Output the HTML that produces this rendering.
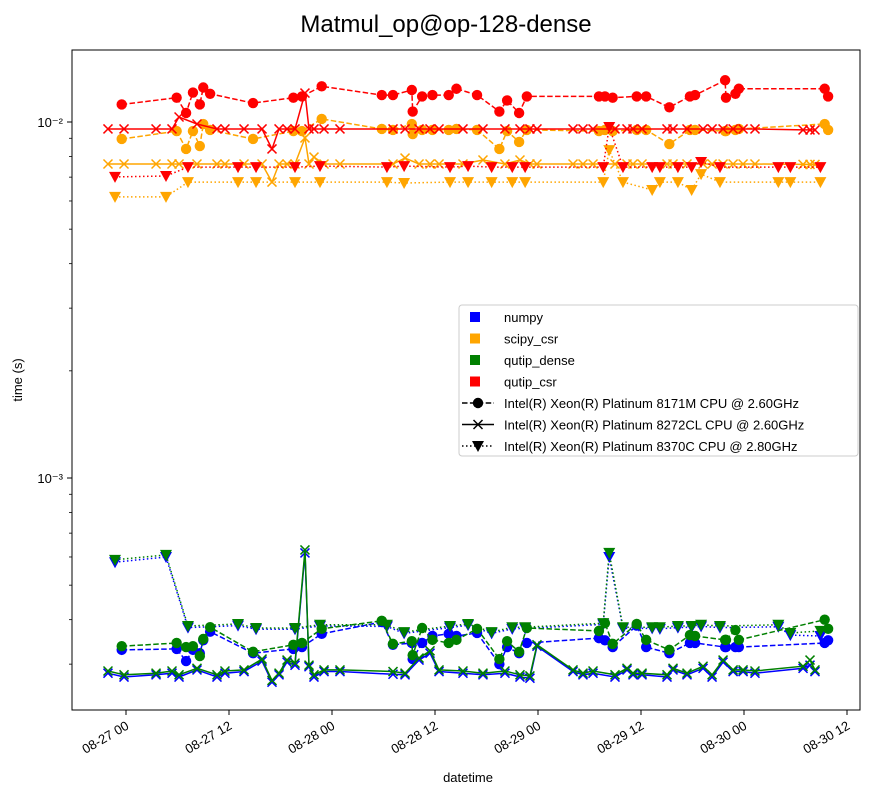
<!DOCTYPE html>
<html><head><meta charset="utf-8"><style>
body{margin:0;background:#fff;}
svg{display:block;font-family:"Liberation Sans","DejaVu Sans",sans-serif;}
</style></head><body>
<svg id="chart" width="875" height="794" viewBox="0 0 875 794" xmlns="http://www.w3.org/2000/svg">
<text x="446" y="32" font-size="24" text-anchor="middle">Matmul_op@op-128-dense</text>
<text transform="translate(22,380) rotate(-90)" font-size="13" text-anchor="middle">time (s)</text>
<text x="468" y="782" font-size="13" text-anchor="middle">datetime</text>
<g id="plot"></g>
<rect x="72" y="50" width="788" height="660" fill="none" stroke="#000" stroke-width="1"/>
<g id="axes"></g>
<g id="legend"></g>
</svg>
<script>
// hours since 08-27 00:00 ; values in milliseconds
const hoursA=[-0.5,5.9,7.0,7.8,8.6,9.0,9.8,14.8,19.5,20.5,22.8,29.8,31.1,33.3,33.4,34.5,35.7,37.6,38.5,40.9,43.5,44.4,45.8,46.7,55.1,55.8,56.7,59.5,60.6,63.3,65.7,66.3,69.8,69.9,71.0,71.4,81.4,81.8];
const numpyA=[0.329,0.331,0.306,0.329,0.322,0.35,0.37,0.322,0.331,0.335,0.365,0.394,0.34,0.344,0.31,0.344,0.36,0.365,0.36,0.367,0.30,0.335,0.322,0.344,0.355,0.35,0.335,0.385,0.335,0.322,0.344,0.344,0.335,0.335,0.335,0.335,0.344,0.35];
const scipyA=[8.96,9.43,8.4,9.43,8.56,9.87,9.5,8.96,9.43,9.43,10.2,9.56,9.5,9.87,9.25,9.5,9.5,9.5,9.56,9.5,8.4,9.43,8.79,9.5,9.43,9.5,9.43,9.5,9.5,8.67,9.5,9.5,9.43,9.43,9.5,9.56,9.87,9.5];
const denseA=[0.337,0.344,0.335,0.337,0.316,0.353,0.381,0.325,0.34,0.344,0.377,0.397,0.342,0.348,0.318,0.379,0.351,0.344,0.351,0.377,0.31,0.348,0.325,0.379,0.372,0.391,0.342,0.389,0.351,0.329,0.362,0.36,0.351,0.351,0.374,0.351,0.40,0.377];
const csrA=[11.2,11.7,10.6,12.1,11.2,12.5,12.0,11.3,11.7,11.8,12.6,11.9,11.9,12.3,10.7,11.8,11.9,11.9,12.4,11.9,10.7,11.5,10.6,11.8,11.8,11.8,11.7,11.8,11.8,11.0,11.8,11.9,13.1,11.7,12.0,12.4,12.4,11.8];

const hoursB=[-2.10,-0.23,3.50,5.36,6.18,8.27,10.60,11.53,13.75,15.85,17.01,17.83,18.76,19.69,20.85,21.32,21.90,23.07,24.93,31.11,32.51,34.14,35.42,36.47,39.26,41.59,44.15,45.90,47.06,47.88,52.08,53.24,54.41,56.97,58.37,59.07,60.12,63.03,63.73,65.36,67.23,68.28,69.56,70.73,71.89,73.28,78.88,79.69,80.27];
const numpyB=[0.283,0.276,0.280,0.283,0.276,0.289,0.276,0.283,0.286,0.306,0.267,0.280,0.304,0.298,0.616,0.295,0.276,0.286,0.286,0.281,0.280,0.308,0.322,0.286,0.283,0.280,0.283,0.276,0.274,0.337,0.286,0.280,0.283,0.276,0.289,0.280,0.280,0.276,0.289,0.280,0.292,0.276,0.304,0.286,0.286,0.283,0.292,0.298,0.286];
const scipyB=[7.62,7.62,7.62,7.62,7.62,7.62,7.62,7.62,7.62,7.62,6.78,7.62,7.62,7.62,9.02,7.62,7.97,7.62,7.62,7.62,7.92,7.62,7.62,7.62,7.62,7.82,7.62,7.82,7.62,7.62,7.62,7.62,7.62,7.62,7.62,7.62,7.62,7.62,7.62,7.62,7.62,7.62,7.62,7.62,7.62,7.62,7.6,7.6,7.6];
const denseB=[0.287,0.280,0.283,0.287,0.280,0.292,0.280,0.287,0.289,0.310,0.270,0.283,0.308,0.302,0.628,0.298,0.280,0.289,0.289,0.286,0.283,0.312,0.327,0.289,0.287,0.283,0.287,0.280,0.278,0.340,0.289,0.283,0.287,0.280,0.292,0.283,0.283,0.280,0.292,0.283,0.296,0.280,0.308,0.289,0.289,0.287,0.296,0.308,0.289];
const csrB=[9.56,9.56,9.56,9.56,10.33,9.87,9.56,9.56,9.56,9.56,8.40,9.56,9.56,9.56,12.06,9.56,9.56,9.56,9.56,9.56,9.56,9.56,9.56,9.56,9.56,9.56,9.56,9.56,9.56,9.56,9.56,9.56,9.56,9.56,9.56,9.56,9.56,9.56,9.56,9.56,9.56,9.56,9.56,9.56,9.56,9.56,9.5,9.5,9.5];

const hoursC=[-1.28,4.66,7.22,13.05,15.15,19.69,22.6,30.4,32.4,37.75,39.85,42.6,45.0,46.5,55.6,56.3,57.9,61.3,62.2,64.3,65.9,67.0,69.2,76.0,77.4,80.9];
const numpyC=[0.58,0.60,0.38,0.385,0.376,0.376,0.384,0.383,0.366,0.38,0.386,0.366,0.377,0.378,0.388,0.60,0.378,0.378,0.377,0.38,0.381,0.383,0.38,0.382,0.362,0.36];
const scipyC=[6.16,6.16,6.78,6.78,6.78,6.78,6.78,6.78,6.74,6.78,6.78,6.78,6.78,6.78,6.78,8.34,6.78,6.44,6.78,6.78,6.44,7.14,6.78,6.78,6.78,6.78];
const denseC=[0.589,0.608,0.384,0.389,0.379,0.379,0.387,0.387,0.369,0.384,0.389,0.369,0.381,0.381,0.391,0.616,0.381,0.381,0.381,0.384,0.384,0.387,0.384,0.387,0.367,0.372];
const csrC=[7.01,7.05,7.47,7.47,7.47,7.47,7.52,7.47,7.52,7.47,7.52,7.47,7.47,7.47,7.47,9.68,7.47,7.47,7.47,7.47,7.47,7.72,7.47,7.47,7.47,7.47];

const xTickHours=[0,12,24,36,48,60,72,84];
const xTickLabels=["08-27 00","08-27 12","08-28 00","08-28 12","08-29 00","08-29 12","08-30 00","08-30 12"];
const yMajorTicks=[0.01,0.001];
const yMajorLabels=["10\u207B\u00B2","10\u207B\u00B3"];
const legendLibs=["numpy","scipy_csr","qutip_dense","qutip_csr"];
const legendCpus=["Intel(R) Xeon(R) Platinum 8171M CPU @ 2.60GHz","Intel(R) Xeon(R) Platinum 8272CL CPU @ 2.60GHz","Intel(R) Xeon(R) Platinum 8370C CPU @ 2.80GHz"];

const NS="http://www.w3.org/2000/svg";
const X=h=>126+h*103/12;
const Y=ms=>122-356*Math.log10(ms/10);
const colors={numpy:"#0000ff",scipy_csr:"#ffa500",qutip_dense:"#008000",qutip_csr:"#ff0000"};
function mk(tag,attrs,parent){const e=document.createElementNS(NS,tag);for(const k in attrs)e.setAttribute(k,attrs[k]);parent.appendChild(e);return e;}
function marker(g,type,x,y,c){
  let m;
  if(type==="o"){m=mk("circle",{cx:x,cy:y,r:5.2,fill:c},g);}
  else if(type==="x"){m=mk("path",{d:`M${x-4.5},${y-4.5}L${x+4.5},${y+4.5}M${x-4.5},${y+4.5}L${x+4.5},${y-4.5}`,stroke:c,"stroke-width":1.5,fill:"none"},g);}
  else {m=mk("path",{d:`M${x-6},${y-5}L${x+6},${y-5}L${x},${y+6}Z`,fill:c},g);}
  return m;
}
const plot=document.getElementById("plot");
const dashes={o:"5.5,2.4",x:"",v:"1.5,2.5"};
function series(name,hours,vals,lib,type){
  const g=mk("g",{},plot);
  
  
  const c=colors[lib];
  const pts=hours.map((h,i)=>X(h).toFixed(1)+","+Y(vals[i]).toFixed(1)).join(" ");
  const pl=mk("polyline",{points:pts,fill:"none",stroke:c,"stroke-width":1.5,"stroke-dasharray":dashes[type]},g);
  
  
  hours.forEach((h,i)=>{const m=marker(g,type,X(h),Y(vals[i]),c);
    
    });
}
series("numpy-8171m",hoursA,numpyA,"numpy","o");
series("numpy-8272cl",hoursB,numpyB,"numpy","x");
series("numpy-8370c",hoursC,numpyC,"numpy","v");
series("scipy-8171m",hoursA,scipyA,"scipy_csr","o");
series("scipy-8272cl",hoursB,scipyB,"scipy_csr","x");
series("scipy-8370c",hoursC,scipyC,"scipy_csr","v");
series("dense-8171m",hoursA,denseA,"qutip_dense","o");
series("dense-8272cl",hoursB,denseB,"qutip_dense","x");
series("dense-8370c",hoursC,denseC,"qutip_dense","v");
series("csr-8171m",hoursA,csrA,"qutip_csr","o");
series("csr-8272cl",hoursB,csrB,"qutip_csr","x");
series("csr-8370c",hoursC,csrC,"qutip_csr","v");

const axes=document.getElementById("axes");
xTickHours.forEach((h,i)=>{const x=X(h);
  const t=mk("line",{x1:x,y1:710,x2:x,y2:715,stroke:"#000"},axes);
  
  
  const lx=x-1, ly=720;
  const l=mk("text",{x:lx,y:ly,"font-size":13,"text-anchor":"end",transform:`rotate(-30 ${lx} ${ly})`,"dominant-baseline":"hanging"},axes);
  l.textContent=xTickLabels[i];
  
  
});
yMajorTicks.forEach((v,i)=>{const y=Y(v*1000);
  const t=mk("line",{x1:67,y1:y,x2:72,y2:y,stroke:"#000"},axes);
  
  
  const l=mk("text",{x:63,y:y+5,"font-size":13,"text-anchor":"end"},axes);
  l.textContent=yMajorLabels[i];
  
  
});
[0.0003,0.0004,0.0005,0.0006,0.0007,0.0008,0.0009,0.002,0.003,0.004,0.005,0.006,0.007,0.008,0.009].forEach(v=>{const y=Y(v*1000);
  const t=mk("line",{x1:69,y1:y,x2:72,y2:y,stroke:"#000","stroke-width":0.8},axes);
  
  
});

const lg=document.getElementById("legend");
mk("rect",{x:459,y:305,width:399,height:151,rx:3,fill:"#fff",stroke:"#ccc","fill-opacity":0.8},lg);
legendLibs.forEach((n,i)=>{const y=317+i*21.5;
  const s=mk("rect",{x:470,y:y-5,width:10,height:10,fill:colors[n]},lg);
  
  
  const t=mk("text",{x:504,y:y+5,"font-size":13},lg);t.textContent=n;
  
  
});
["o","x","v"].forEach((tp,i)=>{const y=403+i*21.5;
  mk("line",{x1:462,y1:y,x2:494,y2:y,stroke:"#000","stroke-width":1.5,"stroke-dasharray":dashes[tp]},lg);
  marker(lg,tp,478,y,"#000");
  const t=mk("text",{x:504,y:y+5,"font-size":13},lg);t.textContent=legendCpus[i];
  
  
});
</script>
</body></html>
